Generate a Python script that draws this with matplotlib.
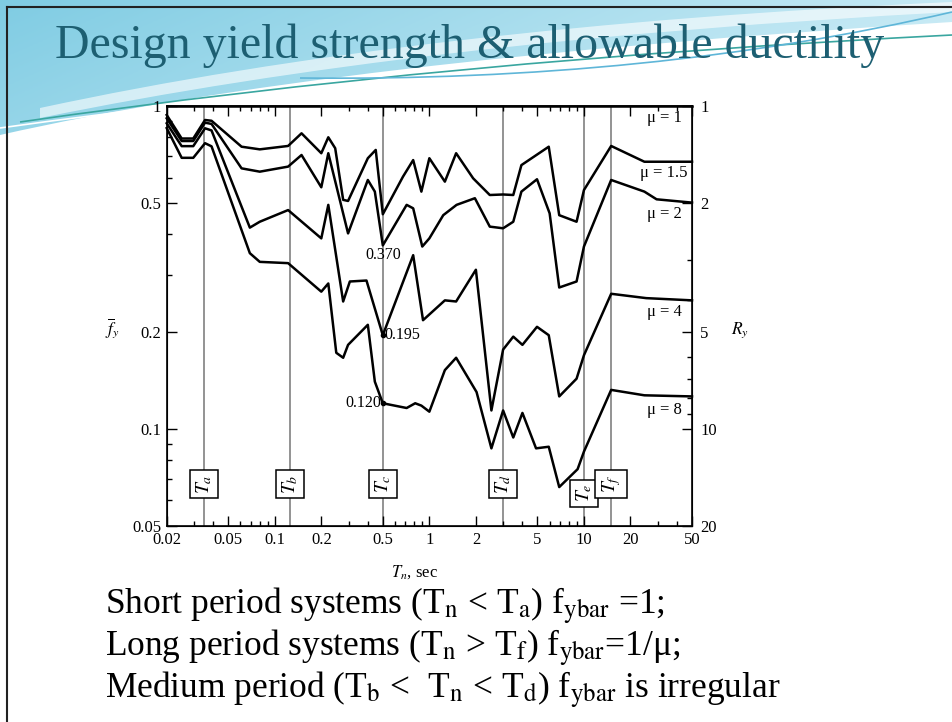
import numpy as np
import matplotlib.pyplot as plt
from matplotlib.path import Path
from matplotlib.patches import PathPatch

plt.rcParams['font.family'] = ['Liberation Serif', 'DejaVu Serif']
plt.rcParams['mathtext.fontset'] = 'stix'

# --- dados (T_n em s, f_y normalizado) ---
T_mu1 = [0.02, 50]
fy_mu1 = [1.0, 1.0]

T_mu15 = [0.02, 0.025, 0.0297, 0.0354, 0.039, 0.061, 0.08, 0.122, 0.149, 0.2, 0.222, 0.246,
          0.277, 0.298, 0.40, 0.45, 0.5, 0.675, 0.786, 0.888, 1.0, 1.26, 1.49, 1.92, 2.46,
          3.0, 3.49, 3.94, 5.92, 6.92, 8.96, 10, 15, 24.6, 50]
fy_mu15 = [0.938, 0.793, 0.793, 0.905, 0.90, 0.748, 0.734, 0.752, 0.823, 0.714, 0.80, 0.74,
           0.512, 0.508, 0.689, 0.731, 0.462, 0.604, 0.68, 0.543, 0.689, 0.583, 0.714, 0.597, 0.53,
           0.532, 0.53, 0.656, 0.748, 0.459, 0.438, 0.549, 0.752, 0.672, 0.672]

T_mu2 = [0.02, 0.025, 0.0297, 0.0354, 0.039, 0.061, 0.08, 0.122, 0.149, 0.2, 0.222, 0.298,
         0.40, 0.444, 0.5, 0.713, 0.786, 0.90, 1.0, 1.23, 1.5, 1.97, 2.46, 3.0, 3.49, 3.94,
         4.97, 6.0, 6.92, 8.96, 10, 15, 24.6, 29.5, 50]
fy_mu2 = [0.916, 0.779, 0.779, 0.888, 0.88, 0.641, 0.626, 0.649, 0.705, 0.56, 0.714, 0.403,
          0.59, 0.543, 0.370, 0.494, 0.482, 0.367, 0.389, 0.459, 0.494, 0.518, 0.423, 0.418, 0.438, 0.543,
          0.593, 0.465, 0.274, 0.286, 0.367, 0.59, 0.543, 0.514, 0.502]

T_mu4 = [0.02, 0.025, 0.0297, 0.0354, 0.039, 0.069, 0.08, 0.122, 0.2, 0.222, 0.277, 0.306,
         0.392, 0.5, 0.786, 0.91, 1.26, 1.49, 2.0, 2.52, 3.0, 3.49, 4.0, 4.97, 5.92, 6.92,
         8.96, 10, 15, 25.3, 50]
fy_mu4 = [0.884, 0.751, 0.751, 0.853, 0.84, 0.42, 0.438, 0.476, 0.389, 0.494, 0.248, 0.286,
          0.288, 0.195, 0.345, 0.217, 0.25, 0.248, 0.311, 0.114, 0.176, 0.193, 0.182, 0.207, 0.195, 0.126,
          0.143, 0.169, 0.262, 0.254, 0.25]

T_mu8 = [0.02, 0.025, 0.0297, 0.0354, 0.039, 0.069, 0.08, 0.122, 0.2, 0.222, 0.25, 0.277,
         0.298, 0.40, 0.444, 0.5, 0.713, 0.81, 0.888, 1.0, 1.26, 1.49, 2.02, 2.52, 3.0, 3.49,
         4.0, 4.9, 5.92, 6.92, 9.1, 10, 15, 24.6, 50]
fy_mu8 = [0.854, 0.691, 0.691, 0.767, 0.75, 0.35, 0.329, 0.326, 0.266, 0.282, 0.172, 0.166,
          0.182, 0.21, 0.14, 0.120, 0.116, 0.12, 0.118, 0.113, 0.152, 0.166, 0.13, 0.087, 0.114, 0.094,
          0.112, 0.087, 0.088, 0.066, 0.075, 0.085, 0.132, 0.127, 0.126]

mu_labels = ['μ = 1', 'μ = 1.5', 'μ = 2', 'μ = 4', 'μ = 8']
mu_label_fy = [0.918, 0.62, 0.463, 0.23, 0.114]

T_marks = [0.035, 0.125, 0.5, 3, 10, 15]
T_mark_names = ['a', 'b', 'c', 'd', 'e', 'f']

x_ticks = [0.02, 0.05, 0.1, 0.2, 0.5, 1, 2, 5, 10, 20, 50]
x_ticklabels = ['0.02', '0.05', '0.1', '0.2', '0.5', '1', '2', '5', '10', '20', '50']
y_ticks = [0.05, 0.1, 0.2, 0.5, 1]
y_ticklabels = ['0.05', '0.1', '0.2', '0.5', '1']
Ry_ticks = [1, 2, 5, 10, 20]
Ry_minor = [3, 4, 6, 7, 8, 9]

W, H = 952, 722
fig = plt.figure(figsize=(W / 100, H / 100), dpi=100)
fig.patch.set_facecolor('white')

# fundo do slide (coordenadas em pixels)
bg = fig.add_axes([0, 0, 1, 1])
bg.set_xlim(0, W)
bg.set_ylim(H, 0)
bg.axis('off')

wave = Path([(0, 0), (W, 0), (W, 22), (330, 60), (0, 135), (0, 0)],
            [Path.MOVETO, Path.LINETO, Path.LINETO, Path.CURVE3, Path.CURVE3, Path.CLOSEPOLY])
gx = np.linspace(0, 1, 200)[None, :]
gy = np.linspace(0, 1, 60)[:, None]
c1 = np.array([0.50, 0.80, 0.89])
c2 = np.array([0.86, 0.95, 0.98])
mix = np.clip(0.75 * gx + 0.25 * gy, 0, 1)[..., None]
grad = c1 * (1 - mix) + c2 * mix
im = bg.imshow(grad, extent=(0, W, 140, 0), aspect='auto', zorder=0)
patch = PathPatch(wave, fc='none', ec='none')
bg.add_patch(patch)
im.set_clip_path(patch)

band = Path([(40, 118), (420, 40), (W, 12), (W, 2), (420, 26), (40, 108)],
            [Path.MOVETO, Path.CURVE3, Path.CURVE3, Path.LINETO, Path.CURVE3, Path.CURVE3])
bg.add_patch(PathPatch(band, fc='white', ec='none', alpha=0.6, zorder=1))
for (p0, p1, p2), col in [(((20, 122), (450, 60), (W, 35)), '#3aa6a0'),
                          (((0, 128), (400, 72), (900, 40)), '#ffffff'),
                          (((300, 78), (650, 82), (W, 12)), '#5fb6d8')]:
    pth = Path([p0, p1, p2], [Path.MOVETO, Path.CURVE3, Path.CURVE3])
    bg.add_patch(PathPatch(pth, fc='none', ec=col, lw=1.2, zorder=2))

bg.plot([7, W], [7, 7], color='#222222', lw=1.5, zorder=3)
bg.plot([7, 7], [7, H], color='#222222', lw=1.5, zorder=3)

fig.text(55 / W, 1 - 46 / H, 'Design yield strength & allowable ductility',
         fontsize=34.5, color='#1d5f72', ha='left', va='center')

# grafico principal
ax = fig.add_axes([166.7 / W, 1 - 526 / H, (692 - 166.7) / W, 420 / H])
ax.set_xscale('log')
ax.set_yscale('log')
ax.set_xlim(0.02, 50)
ax.set_ylim(0.05, 1)

for T in T_marks:
    ax.axvline(T, color='#8a8a8a', lw=1.3, zorder=1)

for T, f in [(T_mu1, fy_mu1), (T_mu15, fy_mu15), (T_mu2, fy_mu2), (T_mu4, fy_mu4), (T_mu8, fy_mu8)]:
    ax.plot(T, f, color='black', lw=1.8, zorder=3, clip_on=False)

for lab, f in zip(mu_labels, mu_label_fy):
    ax.text(33, f, lab, ha='center', va='center', fontsize=12, zorder=4)

for T, n in zip(T_marks, T_mark_names):
    fb = 0.0632 if n == 'e' else 0.0675
    ax.text(T, fb, r'$T_%s$' % n, rotation=90, ha='center', va='center', fontsize=14, zorder=5,
            bbox=dict(boxstyle='square,pad=0.22', fc='white', ec='black', lw=1.1))

ax.plot([0.5, 0.5], [0.195, 0.120], 'o', color='black', ms=3, zorder=4)
ax.text(0.5, 0.345, '0.370', ha='center', va='center', fontsize=11.5, zorder=4)
ax.text(0.515, 0.195, '0.195', ha='left', va='center', fontsize=11.5, zorder=4)
ax.text(0.485, 0.120, '0.120', ha='right', va='center', fontsize=11.5, zorder=4)

ax.set_xticks(x_ticks)
ax.set_xticklabels(x_ticklabels)
x_minor = [k * 10.0 ** e for e in range(-2, 2) for k in range(1, 10)
           if 0.02 < k * 10.0 ** e < 50 and not any(abs(k * 10.0 ** e - t) < 1e-9 for t in x_ticks)]
ax.set_xticks(x_minor, minor=True)
ax.set_yticks(y_ticks)
ax.set_yticklabels(y_ticklabels)
y_minor = [k * 10.0 ** e for e in (-2, -1) for k in range(1, 10)
           if 0.05 < k * 10.0 ** e < 1 and not any(abs(k * 10.0 ** e - t) < 1e-9 for t in y_ticks)]
ax.set_yticks(y_minor, minor=True)
ax.yaxis.set_minor_formatter(plt.NullFormatter())
ax.xaxis.set_minor_formatter(plt.NullFormatter())
ax.tick_params(which='both', direction='in', top=True, right=False, labelsize=12, width=1)
ax.tick_params(which='major', length=7, pad=4)
ax.tick_params(which='minor', length=3.5)
for s in ax.spines.values():
    s.set_linewidth(1.2)

ax2 = ax.twinx()
ax2.set_yscale('log')
ax2.set_ylim(0.05, 1)
ax2.set_yticks([1.0 / r for r in Ry_ticks])
ax2.set_yticklabels([str(r) for r in Ry_ticks])
ax2.set_yticks([1.0 / r for r in Ry_minor], minor=True)
ax2.yaxis.set_minor_formatter(plt.NullFormatter())
ax2.tick_params(which='both', direction='in', labelsize=12, width=1)
ax2.tick_params(which='major', length=7, pad=6)
ax2.tick_params(which='minor', length=3.5)

fig.text(112 / W, 1 - 328 / H, r'$\overline{f}_y$', fontsize=12.5, ha='center', va='center')
fig.text(740 / W, 1 - 330 / H, r'$R_y$', fontsize=12.5, ha='center', va='center')
fig.text(414 / W, 1 - 572 / H, r'$T_n$, sec', fontsize=12, ha='center', va='center')

linhas = [r'Short period systems (T$_{\mathrm{n}}$ < T$_{\mathrm{a}}$) f$_{\mathrm{ybar}}$ =1;',
          r'Long period systems (T$_{\mathrm{n}}$ > T$_{\mathrm{f}}$) f$_{\mathrm{ybar}}$=1/μ;',
          r'Medium period (T$_{\mathrm{b}}$ <  T$_{\mathrm{n}}$ < T$_{\mathrm{d}}$) f$_{\mathrm{ybar}}$ is irregular']
for i, s in enumerate(linhas):
    fig.text(105 / W, 1 - (606 + 42 * i) / H, s, fontsize=25.5, ha='left', va='center')

fig.savefig('out.png', dpi=100)
